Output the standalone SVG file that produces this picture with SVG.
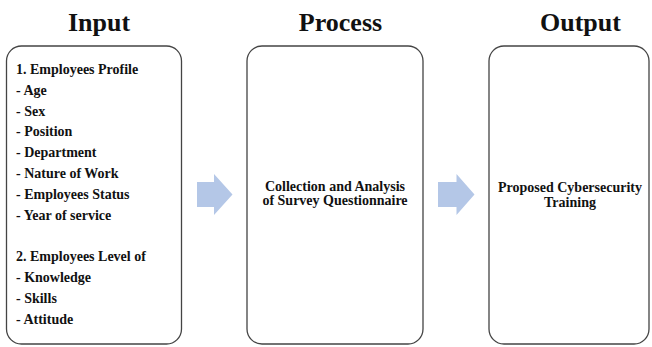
<svg xmlns="http://www.w3.org/2000/svg" width="652" height="347" viewBox="0 0 652 347">
<style>
.box{fill:#fff;stroke:#444;stroke-width:1.3}
.hd{font-family:'Liberation Serif','Times New Roman',Tinos,'DejaVu Serif',serif;font-weight:bold;font-size:26px;fill:#111;text-anchor:middle}
.t{font-family:'Liberation Serif','Times New Roman',Tinos,'DejaVu Serif',serif;font-weight:bold;font-size:14px;fill:#111}
.c{text-anchor:middle}
.arr{fill:#b4c7e7}
</style>
<rect width="652" height="347" fill="#fff"/>
<text class="hd" x="99" y="31">Input</text>
<text class="hd" x="340.5" y="31">Process</text>
<text class="hd" x="580.5" y="31">Output</text>
<g id="input">
<rect class="box" x="6.5" y="46" width="175" height="298" rx="15"/>
<text class="t" x="16" y="74">1. Employees Profile</text>
<text class="t" x="16" y="94.8">- Age</text>
<text class="t" x="16" y="115.6">- Sex</text>
<text class="t" x="16" y="136.4">- Position</text>
<text class="t" x="16" y="157.2">- Department</text>
<text class="t" x="16" y="178">- Nature of Work</text>
<text class="t" x="16" y="198.8">- Employees Status</text>
<text class="t" x="16" y="219.6">- Year of service</text>
<text class="t" x="16" y="261.2">2. Employees Level of</text>
<text class="t" x="16" y="282">- Knowledge</text>
<text class="t" x="16" y="302.8">- Skills</text>
<text class="t" x="16" y="323.6">- Attitude</text>
</g>
<g id="process">
<rect class="box" x="247" y="46" width="176" height="298" rx="15"/>
<text class="t c" x="335" y="190.5">Collection and Analysis</text>
<text class="t c" x="335" y="205">of Survey Questionnaire</text>
</g>
<g id="output">
<rect class="box" x="489" y="46" width="160" height="298" rx="15"/>
<text class="t c" x="570" y="191.5">Proposed Cybersecurity</text>
<text class="t c" x="570" y="206.5">Training</text>
</g>
<g id="connectors">
<polygon class="arr" points="197,182 214,182 214,174 232.5,194.5 214,215 214,207 197,207"/>
<polygon class="arr" points="438,182 456.5,182 456.5,174 474.5,194.5 456.5,215 456.5,207 438,207"/>
</g>
</svg>
